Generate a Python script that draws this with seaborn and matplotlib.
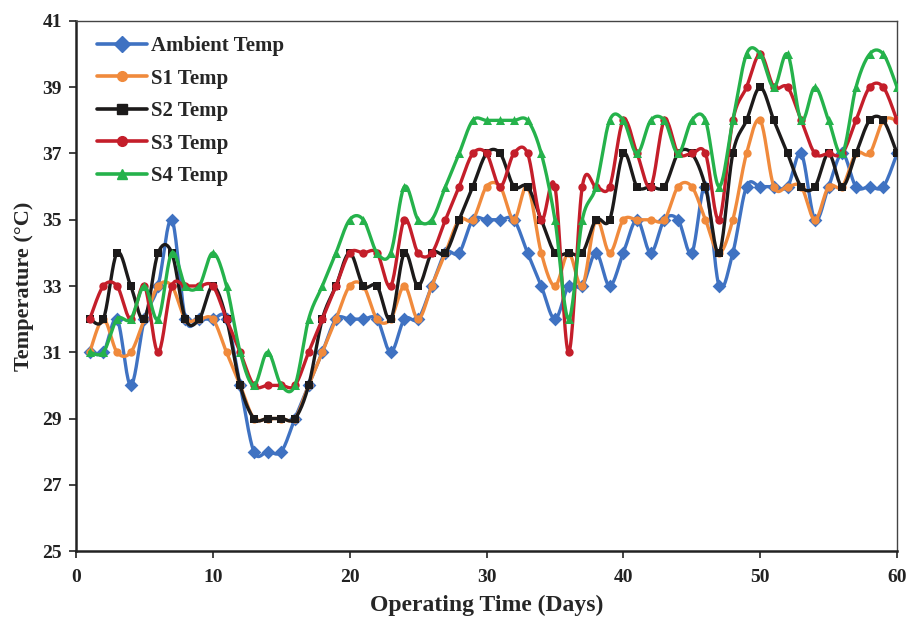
import numpy as np
import pandas as pd
import matplotlib
matplotlib.use("Agg")
import matplotlib.pyplot as plt
from matplotlib.lines import Line2D
import seaborn as sns

days = list(range(1, 61))
ambient = [31, 31, 32, 30, 32, 33, 35, 32, 32, 32, 32, 30, 28, 28, 28, 29, 30, 31, 32, 32,
           32, 32, 31, 32, 32, 33, 34, 34, 35, 35, 35, 35, 34, 33, 32, 33, 33, 34, 33, 34,
           35, 34, 35, 35, 34, 36, 33, 34, 36, 36, 36, 36, 37, 35, 36, 37, 36, 36, 36, 37]
s1 = [31, 32, 31, 31, 32, 33, 33, 32, 32, 32, 31, 30, 29, 29, 29, 29, 30, 31, 32, 33,
      33, 32, 32, 33, 32, 33, 34, 35, 35, 36, 36, 35, 36, 34, 33, 34, 33, 35, 34, 35,
      35, 35, 35, 36, 36, 35, 34, 35, 37, 38, 36, 36, 36, 35, 36, 36, 37, 37, 38, 38]
s2 = [32, 32, 34, 33, 32, 34, 34, 32, 32, 33, 32, 30, 29, 29, 29, 29, 30, 32, 33, 34,
      33, 33, 32, 34, 33, 34, 34, 35, 36, 37, 37, 36, 36, 35, 34, 34, 34, 35, 35, 37,
      36, 36, 36, 37, 37, 36, 34, 37, 38, 39, 38, 37, 36, 36, 37, 36, 37, 38, 38, 37]
s3 = [32, 33, 33, 32, 33, 31, 33, 33, 33, 33, 32, 31, 30, 30, 30, 30, 31, 32, 33, 34,
      34, 34, 33, 35, 34, 34, 35, 36, 37, 37, 36, 37, 37, 35, 36, 31, 36, 36, 36, 38,
      37, 36, 38, 37, 37, 37, 35, 38, 39, 40, 39, 39, 38, 37, 37, 37, 38, 39, 39, 38]
s4 = [31, 31, 32, 32, 33, 32, 34, 33, 33, 34, 33, 31, 30, 31, 30, 30, 32, 33, 34, 35,
      35, 34, 34, 36, 35, 35, 36, 37, 38, 38, 38, 38, 38, 37, 35, 32, 35, 36, 38, 38,
      37, 38, 38, 37, 38, 38, 36, 38, 40, 40, 39, 40, 38, 39, 38, 37, 39, 40, 40, 39]

names = ["Ambient Temp", "S1 Temp", "S2 Temp", "S3 Temp", "S4 Temp"]
series = [ambient, s1, s2, s3, s4]
colors = ["#3F72C2", "#F08A3C", "#1C1A1A", "#C41E2A", "#25B24B"]
markers = ["D", "o", "s", "o", "^"]
msizes = [7, 6, 6, 6, 6.5]
y_ticks = [25, 27, 29, 31, 33, 35, 37, 39, 41]
x_ticks = [0, 10, 20, 30, 40, 50, 60]


def smooth(x, y, n=20):
    # Excel-style smoothed line (cubic Bezier, Catmull-Rom control points)
    x = np.asarray(x, float)
    y = np.asarray(y, float)
    P = np.column_stack([x, y])
    out = []
    m = len(P)
    for i in range(m - 1):
        p0 = P[i - 1] if i > 0 else P[i]
        p1 = P[i]
        p2 = P[i + 1]
        p3 = P[i + 2] if i + 2 < m else P[i + 1]
        c1 = p1 + (p2 - p0) / 6.0
        c2 = p2 - (p3 - p1) / 6.0
        t = np.linspace(0, 1, n, endpoint=(i == m - 2))[:, None]
        b = ((1 - t) ** 3) * p1 + 3 * ((1 - t) ** 2) * t * c1 + 3 * (1 - t) * t ** 2 * c2 + t ** 3 * p2
        out.append(b)
    B = np.vstack(out)
    return B[:, 0], B[:, 1]


sns.set_style("ticks")
plt.rcParams["font.family"] = ["Liberation Serif", "DejaVu Serif"]
plt.rcParams["font.weight"] = "bold"

fig = plt.figure(figsize=(9.07, 6.21), dpi=100)
ax = fig.add_axes([0.0838, 0.1127, 0.9052, 0.8535])

handles = []
for k, (name, vals) in enumerate(zip(names, series)):
    sx, sy = smooth(days, vals)
    dense = pd.DataFrame({"x": sx, "y": sy})
    sns.lineplot(data=dense, x="x", y="y", ax=ax, color=colors[k], lw=2.4,
                 sort=False, estimator=None, zorder=2 + k)
    pts = pd.DataFrame({"x": days, "y": vals})
    sns.scatterplot(data=pts, x="x", y="y", ax=ax, color=colors[k], marker=markers[k],
                    s=msizes[k] ** 2, edgecolor=colors[k], linewidth=0, zorder=2 + k)
    handles.append(Line2D([0], [0], color=colors[k], lw=2.6, marker=markers[k],
                          markersize=msizes[k] + 1, markeredgecolor=colors[k]))

ax.set_xlim(0, 60)
ax.set_ylim(25, 41)
ax.set_xticks(x_ticks)
ax.set_yticks(y_ticks)
ax.tick_params(axis="both", direction="out", length=5, width=1.2, labelsize=14, colors="#222222")
ax.tick_params(axis="x", pad=8)
ax.tick_params(axis="y", pad=5)
for lab in ax.get_xticklabels() + ax.get_yticklabels():
    lab.set_fontweight("bold")
for side in ["left", "bottom"]:
    ax.spines[side].set_linewidth(1.8)
    ax.spines[side].set_color("#222222")
for side in ["top", "right"]:
    ax.spines[side].set_linewidth(1.0)
    ax.spines[side].set_color("#444444")

ax.set_xlabel("Operating Time (Days)", fontsize=17, fontweight="bold", labelpad=6)
ax.set_ylabel("Temperature (\u00b0C)", fontsize=16, fontweight="bold", labelpad=6)

leg = ax.legend(handles, names, loc="upper left", bbox_to_anchor=(0.003, 1.007), frameon=False,
                handlelength=2.4, handletextpad=0.2, labelspacing=0.6,
                prop={"family": "Liberation Serif", "weight": "bold", "size": 15})

fig.savefig("out.png", dpi=100)
